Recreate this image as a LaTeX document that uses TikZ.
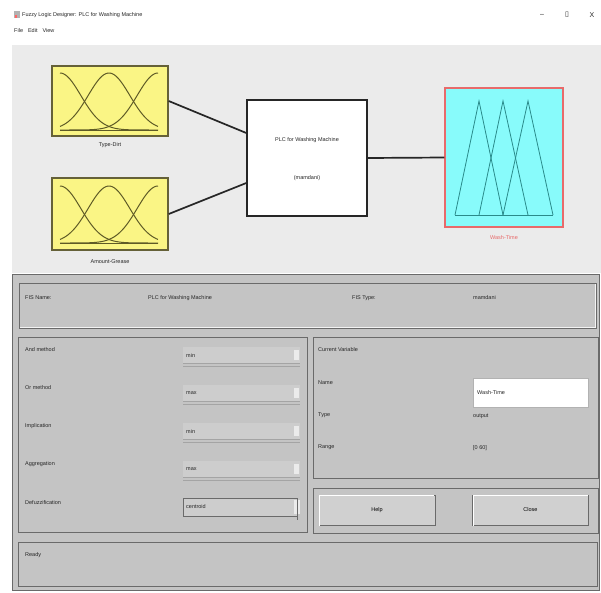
\documentclass[tikz,border=0pt]{standalone}
\usepackage{fontspec}
\setmainfont{Liberation Sans}
\definecolor{topbg}{HTML}{EBEBEB}
\definecolor{panelbg}{HTML}{C4C4C4}
\definecolor{ddbg}{HTML}{CDCDCD}
\definecolor{btnbg}{HTML}{D0D0D0}
\definecolor{yel}{HTML}{FAF585}
\definecolor{cyn}{HTML}{88FBFB}
\definecolor{mfy}{HTML}{5E5A26}
\definecolor{mfc}{HTML}{2A8A8A}
\definecolor{redb}{HTML}{E86A6A}
\definecolor{edge}{HTML}{6A6A6A}
\begin{document}
\begin{tikzpicture}[x=1pt,y=-1pt,
  txt/.style={font=\fontsize{5.5}{6.5}\selectfont, inner sep=0pt, anchor=west, text=black!85},
  ctxt/.style={font=\fontsize{5.5}{6.5}\selectfont, inner sep=0pt, text=black!85},
  inbox/.style={draw=mfy!80!gray, line width=1.4pt, fill=yel, minimum width=116pt, inner sep=0pt},
  panel/.style={draw=edge, line width=0.9pt},
  ddbox/.style={fill=ddbg, draw=ddbg!85!black, line width=0.3pt},
  btn/.style={fill=btnbg, draw=edge, line width=0.6pt, minimum width=116pt, minimum height=30pt, inner sep=0pt, font=\fontsize{5.5}{6.5}\selectfont},
  conn/.style={line width=1.7pt, black!85},
  mfline/.style={mfy, line width=1pt}
]
\useasboundingbox (0,0) rectangle (601,592);
\fill[white] (0,0) rectangle (601,592);
% title bar
\fill[gray!60] (14,11) rectangle (20,18);
\fill[red!60] (15,15) rectangle (17,18);
\node[txt] (title) at (22,15) {Fuzzy Logic Designer: PLC for Washing Machine};
\node[txt] (menu) at (14,31) {File\hspace{5pt}Edit\hspace{5pt}View};
\node[ctxt, font=\fontsize{7}{8}\selectfont] (wmin) at (542,15) {--};
\node[ctxt, font=\fontsize{7}{8}\selectfont] (wmax) at (567,15) {\fontspec{DejaVu Sans}▯};
\node[ctxt, font=\fontsize{7}{8}\selectfont] (wcls) at (592,15) {X};
% top diagram area
\fill[topbg] (12,45) rectangle (601,273);
% input boxes
\node[inbox, minimum height=70pt] (in1) at (110,101) {};
\node[inbox, minimum height=72pt] (in2) at (110,214) {};
\foreach \oy in {0,113}{
  \draw[mfline] (60,130+\oy) -- (158,130+\oy);
  \draw[mfline] plot[domain=60:158,samples=50,smooth] (\x,{130+\oy-57*exp(-((\x-60)^2)/865)});
  \draw[mfline] plot[domain=60:158,samples=50,smooth] (\x,{130+\oy-57*exp(-((\x-109)^2)/865)});
  \draw[mfline] plot[domain=60:158,samples=50,smooth] (\x,{130+\oy-57*exp(-((\x-158)^2)/865)});
}
\node[ctxt] (l1) at (110,145) {Type-Dirt};
\node[ctxt] (l2) at (110,262) {Amount-Grease};
% fis box
\node[draw=black!85, line width=1.4pt, fill=white, minimum width=120pt, minimum height=116pt, inner sep=0pt] (fis) at (307,158) {};
\node[ctxt] (fisname) at (307,140) {PLC for Washing Machine};
\node[ctxt] (fistype) at (307,178) {(mamdani)};
% output box
\node[draw=redb, line width=1.3pt, fill=cyn, minimum width=118pt, minimum height=139pt, inner sep=0pt] (out) at (504,157.5) {};
\draw[mfc, line width=0.8pt] (455,215) -- (479,101) -- (503,215);
\draw[mfc, line width=0.8pt] (479,215) -- (503,101) -- (528,215);
\draw[mfc, line width=0.8pt] (503,215) -- (528,101) -- (553,215);
\draw[mfc, line width=0.8pt] (455,215) -- (553,215);
\node[ctxt, text=redb] (l3) at (504,238) {Wash-Time};
% connectors
\draw[conn] (in1.east) -- ([yshift=25pt]fis.west);
\draw[conn] (in2.east) -- ([yshift=-25pt]fis.west);
\draw[conn] (fis.east) -- (out.west);
% bottom gray area
\fill[panelbg] (12,274) rectangle (599,590);
\draw[edge, line width=1pt] (12,274) -- (599,274);
\draw[edge, line width=0.8pt] (12,274) -- (12,590) -- (599,590) -- (599,274);
% FIS panel
\draw[panel] (19,283) rectangle (596,328);
\draw[white!80!panelbg, line width=0.5pt] (20,327) -- (595,327) -- (595,284);
\node[txt] (fn) at (25,298) {FIS Name:};
\node[txt] (fnv) at (148,298) {PLC for Washing Machine};
\node[txt] (ft) at (352,298) {FIS Type:};
\node[txt] (ftv) at (473,298) {mamdani};
% left panel
\draw[panel] (18,337) rectangle (307,532);
\foreach \yy/\lab/\val/\nm in {355/And method/min/a,393/Or method/max/b,431/Implication/min/c,469/Aggregation/max/d}{
  \node[txt] (lab\nm) at (25,\yy-5) {\lab};
  \fill[ddbg] (183,\yy-8) rectangle (300,\yy+8);
  \draw[ddbg!80!black, line width=0.3pt] (183,\yy+8) -- (300,\yy+8);
  \draw[ddbg!80!black, line width=0.3pt] (183,\yy+11) -- (300,\yy+11);
  \fill[white!60!ddbg] (294,\yy-5) rectangle (299,\yy+5);
  \node[txt] (val\nm) at (186,\yy) {\val};
}
\node[txt] (labe) at (25,503) {Defuzzification};
\draw[ddbox, draw=edge, line width=0.6pt] (183,498) rectangle (297,516);
\fill[white!60!ddbg] (294,500) rectangle (300,514);
\draw[edge, line width=0.5pt] (297,498) -- (297,520);
\node[txt] (vale) at (186,507) {centroid};
% right panel
\draw[panel] (313,337) rectangle (598,478);
\node[txt] (cv) at (318,350) {Current Variable};
\node[txt] (nl) at (318,383) {Name};
\node[draw=gray!60, fill=white, line width=0.3pt, minimum width=115pt, minimum height=29pt, inner sep=0pt] (nbox) at (530.5,392.5) {};
\node[txt] (nv) at (477,393) {Wash-Time};
\node[txt] (tl) at (318,415) {Type};
\node[txt] (tv) at (473,416) {output};
\node[txt] (rl) at (318,447) {Range};
\node[txt] (rv) at (473,448) {[0 60]};
% buttons panel
\draw[panel] (313,488) rectangle (598,533);
\node[btn] (help) at (377,510) {Help};
\node[btn] (close) at (530.5,510) {Close};
\draw[white, line width=0.8pt] ([shift={(1pt,-1pt)}]help.south west) -- ([shift={(1pt,-1pt)}]help.north west) -- ([shift={(-1pt,-1pt)}]help.north east);
\draw[white, line width=0.8pt] ([shift={(1pt,-1pt)}]close.south west) -- ([shift={(1pt,-1pt)}]close.north west) -- ([shift={(-1pt,-1pt)}]close.north east);
% status panel
\draw[panel] (18,542) rectangle (597,586);
\node[txt] (st) at (25,555) {Ready};
\end{tikzpicture}
\end{document}
